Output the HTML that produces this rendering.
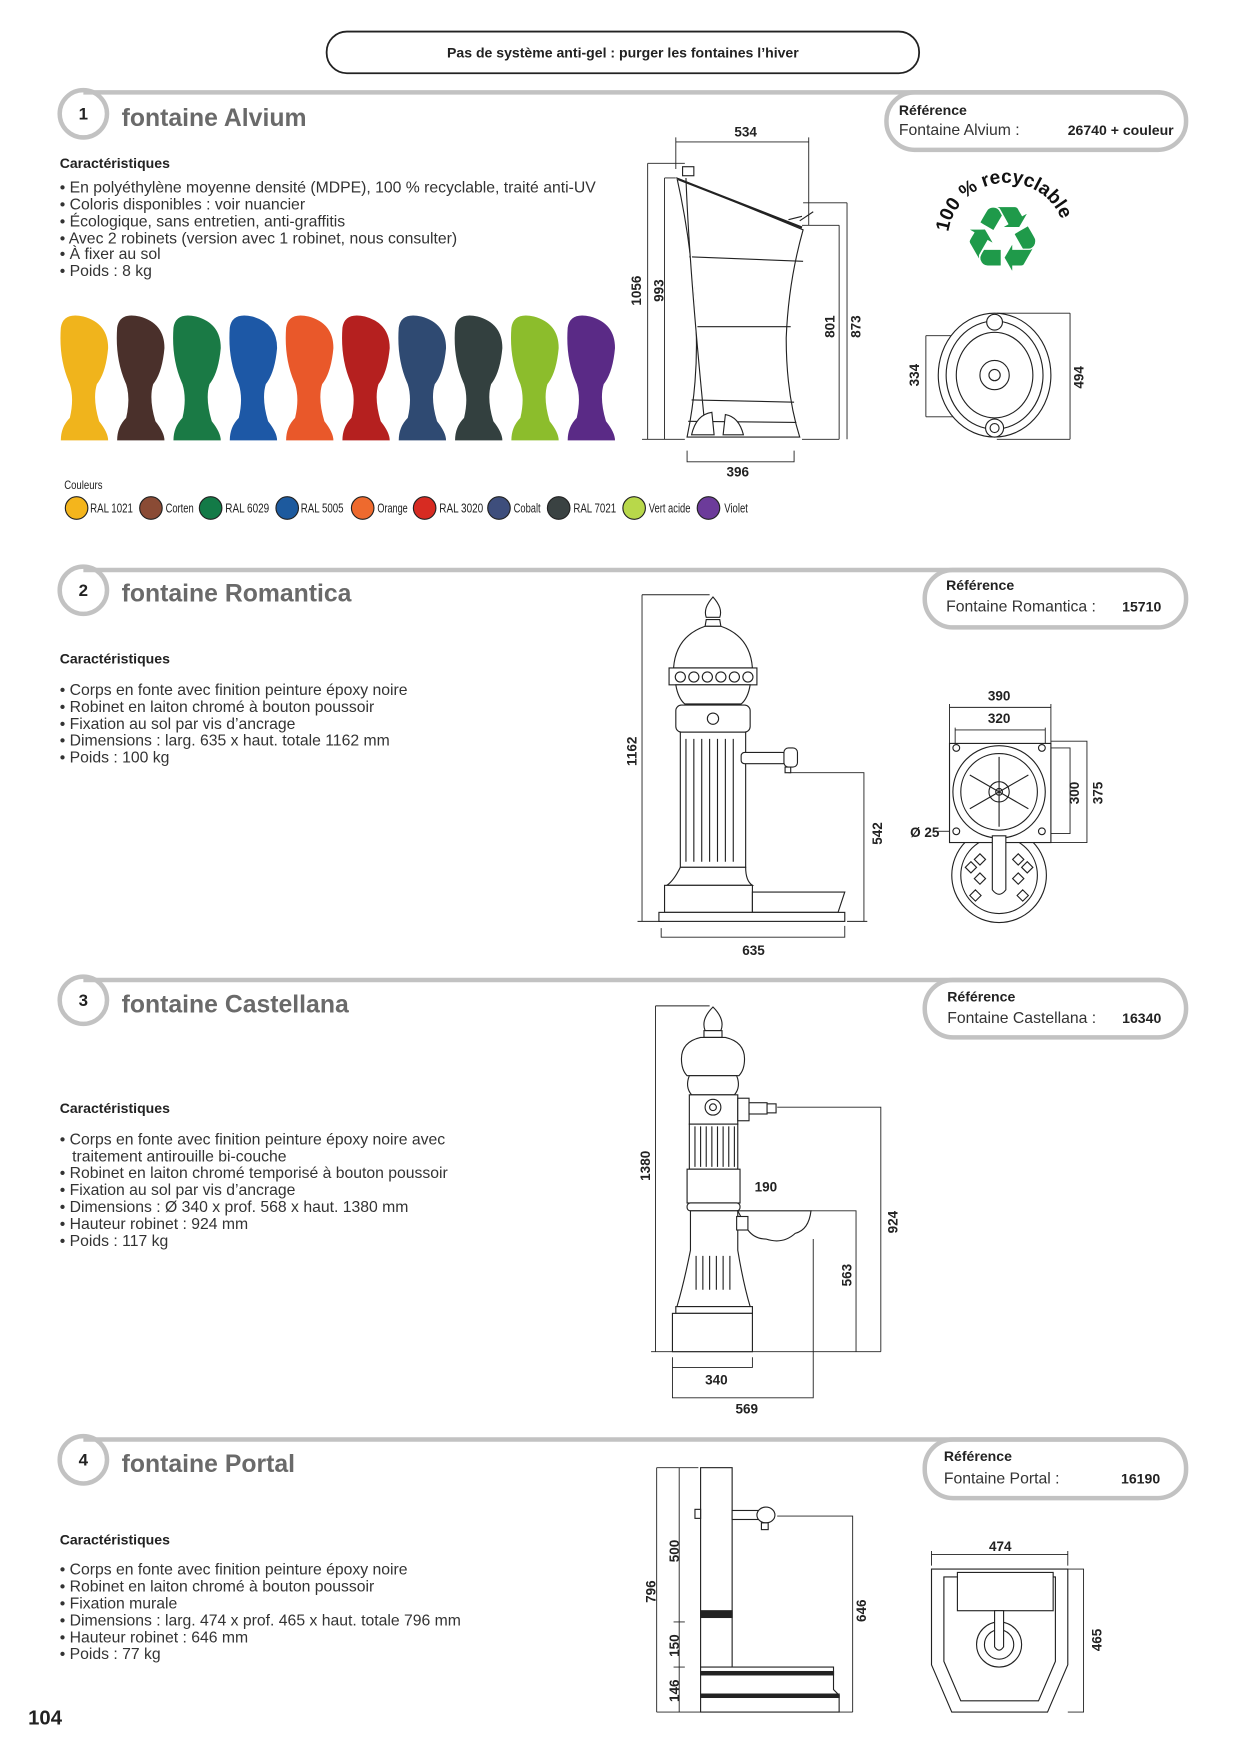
<!DOCTYPE html>
<html><head><meta charset="utf-8"><style>
html,body{margin:0;padding:0;background:#fff}
svg{display:block}
text{font-family:"Liberation Sans",sans-serif}
.n{font-weight:bold;font-size:12px;fill:#222}
.b{font-size:14px;fill:#333}
.t{font-size:22px;fill:#6a6a6a;font-weight:bold}
.c{font-size:12.5px;font-weight:bold;fill:#222}
.d{stroke:#222;stroke-width:0.8;fill:none}
.g{stroke:#c2c2c2;stroke-width:4;fill:none}
</style></head><body>
<svg width="1239" height="1753" viewBox="0 0 1100 1556.3" xmlns="http://www.w3.org/2000/svg">
<rect x="290" y="28" width="526" height="37" rx="18" fill="#fff" stroke="#222" stroke-width="1.6"/>
<text x="553" y="51" text-anchor="middle" font-size="12.5" font-weight="bold" fill="#222">Pas de système anti-gel : purger les fontaines l’hiver</text>

<g>
<path class="g" d="M74 82 H1030"/><circle class="g" cx="74" cy="101" r="21" fill="#fff"/>
<text x="74" y="106" text-anchor="middle" font-size="15" font-weight="bold" fill="#222">1</text>
<text x="108" y="112" class="t">fontaine Alvium</text>
<rect class="g" x="787" y="82" width="266" height="51" rx="25" fill="#fff"/>
<text x="798" y="102" class="c">Référence</text>
<text x="798" y="120" class="b" font-size="13">Fontaine Alvium :</text>
<text x="1042" y="120" class="c" text-anchor="end">26740 + couleur</text>
</g>
<g>
<path class="g" d="M74 506 H1030"/><circle class="g" cx="74" cy="524" r="21" fill="#fff"/>
<text x="74" y="529" text-anchor="middle" font-size="15" font-weight="bold" fill="#222">2</text>
<text x="108" y="534" class="t">fontaine Romantica</text>
<rect class="g" x="821" y="506" width="232" height="51" rx="25" fill="#fff"/>
<text x="840" y="524" class="c">Référence</text>
<text x="840" y="543" class="b" font-size="13">Fontaine Romantica :</text>
<text x="1031" y="543" class="c" text-anchor="end">15710</text>
</g>
<g>
<path class="g" d="M74 870 H1030"/><circle class="g" cx="74" cy="888" r="21" fill="#fff"/>
<text x="74" y="893" text-anchor="middle" font-size="15" font-weight="bold" fill="#222">3</text>
<text x="108" y="899" class="t">fontaine Castellana</text>
<rect class="g" x="821" y="870" width="232" height="51" rx="25" fill="#fff"/>
<text x="841" y="889" class="c">Référence</text>
<text x="841" y="908" class="b" font-size="13">Fontaine Castellana :</text>
<text x="1031" y="908" class="c" text-anchor="end">16340</text>
</g>
<g>
<path class="g" d="M74 1278 H1030"/><circle class="g" cx="74" cy="1296" r="21" fill="#fff"/>
<text x="74" y="1301" text-anchor="middle" font-size="15" font-weight="bold" fill="#222">4</text>
<text x="108" y="1307" class="t">fontaine Portal</text>
<rect class="g" x="821" y="1278" width="232" height="52" rx="25" fill="#fff"/>
<text x="838" y="1297" class="c">Référence</text>
<text x="838" y="1317" class="b" font-size="13">Fontaine Portal :</text>
<text x="1030" y="1317" class="c" text-anchor="end">16190</text>
</g>

<text x="53" y="149" class="c">Caractéristiques</text>
<g class="b">
<text x="53" y="171">• En polyéthylène moyenne densité (MDPE), 100 % recyclable, traité anti-UV</text>
<text x="53" y="186">• Coloris disponibles : voir nuancier</text>
<text x="53" y="201">• Écologique, sans entretien, anti-graffitis</text>
<text x="53" y="216">• Avec 2 robinets (version avec 1 robinet, nous consulter)</text>
<text x="53" y="230">• À fixer au sol</text>
<text x="53" y="245">• Poids : 8 kg</text>
</g>
<defs>
<path id="f" d="M2 12 Q4 -2 22 2 Q44 8 44 30 Q42 52 34 62 Q30 75 36 95 Q44 105 44 112 L2 112 Q2 100 10 92 Q14 75 10 62 Q0 40 2 12 Z"/>
</defs>
<g>
<use href="#f" x="52" y="279" fill="#f0b41c"/>
<use href="#f" x="102" y="279" fill="#4a302b"/>
<use href="#f" x="152" y="279" fill="#1a7a45"/>
<use href="#f" x="202" y="279" fill="#1d58a6"/>
<use href="#f" x="252" y="279" fill="#e9582a"/>
<use href="#f" x="302" y="279" fill="#b5201f"/>
<use href="#f" x="352" y="279" fill="#2f4a72"/>
<use href="#f" x="402" y="279" fill="#33403f"/>
<use href="#f" x="452" y="279" fill="#8cbd2c"/>
<use href="#f" x="502" y="279" fill="#5a2a86"/>
</g>
<text x="57" y="434" font-size="11" fill="#222" textLength="34" lengthAdjust="spacingAndGlyphs">Couleurs</text>
<g stroke="#222" stroke-width="1">
<circle cx="68" cy="451" r="10" fill="#f4b51c"/>
<circle cx="134" cy="451" r="10" fill="#8a4b35"/>
<circle cx="187" cy="451" r="10" fill="#137a47"/>
<circle cx="255" cy="451" r="10" fill="#1d5a9e"/>
<circle cx="322" cy="451" r="10" fill="#ee6a2e"/>
<circle cx="377" cy="451" r="10" fill="#d72b22"/>
<circle cx="443" cy="451" r="10" fill="#3e4e7c"/>
<circle cx="496" cy="451" r="10" fill="#3a4242"/>
<circle cx="563" cy="451" r="10" fill="#b8d84a"/>
<circle cx="629" cy="451" r="10" fill="#6c3b9a"/>
</g>
<g font-size="11.5" fill="#222" lengthAdjust="spacingAndGlyphs">
<text x="80" y="455" textLength="38" lengthAdjust="spacingAndGlyphs">RAL 1021</text>
<text x="147" y="455" textLength="25" lengthAdjust="spacingAndGlyphs">Corten</text>
<text x="200" y="455" textLength="39" lengthAdjust="spacingAndGlyphs">RAL 6029</text>
<text x="267" y="455" textLength="38" lengthAdjust="spacingAndGlyphs">RAL 5005</text>
<text x="335" y="455" textLength="27" lengthAdjust="spacingAndGlyphs">Orange</text>
<text x="390" y="455" textLength="39" lengthAdjust="spacingAndGlyphs">RAL 3020</text>
<text x="456" y="455" textLength="24" lengthAdjust="spacingAndGlyphs">Cobalt</text>
<text x="509" y="455" textLength="38" lengthAdjust="spacingAndGlyphs">RAL 7021</text>
<text x="576" y="455" textLength="37" lengthAdjust="spacingAndGlyphs">Vert acide</text>
<text x="643" y="455" textLength="21" lengthAdjust="spacingAndGlyphs">Violet</text>
</g>

<g class="d">
<path d="M600 126 H718 M600 122 V150 M718 122 V200"/>
<path d="M575 145 H608 M575 145 V390 M570 390 H608"/>
<path d="M590 158 H600 M590 158 V390"/>
<path d="M745 200 H712 M745 200 V390 M712 390 H745"/>
<path d="M752 180 H713 M752 180 V390"/>
<path d="M610 400 V410 H705 V400"/>
</g>
<g fill="#fff" stroke="#222" stroke-width="1">
<path d="M601 158 L713 204 Q700 250 698 300 Q698 350 710 388 L610 388 Q620 340 618 290 Q615 220 601 158 Z"/>
<path d="M602 159 L712 202" stroke-width="2"/>
<path d="M612 228 L713 232 M619 290 L702 290 M614 355 L705 357 M611 374 L707 375"/>
<path d="M609 158 Q612 240 626 380" />
<path d="M614 386 Q618 368 632 366 L634 386 Z M642 386 L644 368 Q656 370 660 386 Z"/>
<rect x="606" y="148" width="10" height="8"/>
<path d="M710 196 L722 188 M700 195 L712 192"/>
</g>
<g class="n">
<text x="662" y="121" text-anchor="middle">534</text>
<text x="655" y="423" text-anchor="middle">396</text>
<text transform="translate(569,258) rotate(-90)" text-anchor="middle">1056</text>
<text transform="translate(589,258) rotate(-90)" text-anchor="middle">993</text>
<text transform="translate(741,290) rotate(-90)" text-anchor="middle">801</text>
<text transform="translate(764,290) rotate(-90)" text-anchor="middle">873</text>
<text transform="translate(816,333) rotate(-90)" text-anchor="middle">334</text>
<text transform="translate(962,335) rotate(-90)" text-anchor="middle">494</text>
</g>
<defs><path id="arc" d="M842 206 A52 50 0 0 1 944 200"/></defs>
<text font-weight="bold" font-size="17" fill="#111"><textPath href="#arc">100 % recyclable</textPath></text>
<text x="890" y="240" text-anchor="middle" font-family="DejaVu Sans" font-size="80" fill="#1f9a4a">♻</text>
<g class="d">
<path d="M822 298 H850 M822 298 V370 M822 370 H850"/>
<path d="M950 278 H885 M950 278 V390 M950 390 H885"/>
</g>
<g fill="#fff" stroke="#222" stroke-width="1">
<ellipse cx="883" cy="333" rx="50" ry="55"/>
<ellipse cx="883" cy="333" rx="43" ry="48"/>
<ellipse cx="883" cy="333" rx="34" ry="38"/>
<circle cx="883" cy="333" r="13"/><circle cx="883" cy="333" r="5"/>
<circle cx="883" cy="286" r="7"/><circle cx="883" cy="380" r="8"/><circle cx="883" cy="380" r="4"/>
</g>

<text x="53" y="589" class="c">Caractéristiques</text>
<g class="b">
<text x="53" y="617">• Corps en fonte avec finition peinture époxy noire</text>
<text x="53" y="632">• Robinet en laiton chromé à bouton poussoir</text>
<text x="53" y="647">• Fixation au sol par vis d’ancrage</text>
<text x="53" y="662">• Dimensions : larg. 635 x haut. totale 1162 mm</text>
<text x="53" y="677">• Poids : 100 kg</text>
</g>
<g class="d">
<path d="M570 528 H630 M570 528 V818 M566 818 H590"/>
<path d="M700 686 H767 V818 M752 818 H770"/>
<path d="M587 824 V832 H750 V822"/>
</g>
<g fill="#fff" stroke="#222" stroke-width="1">
<path d="M633 530 Q624 540 627 548 L639 548 Q642 540 633 530 Z"/>
<path d="M627 550 H639 L640 556 H626 Z"/>
<path d="M626 556 Q600 565 598 593 H668 Q666 565 640 556 Z"/>
<rect x="594" y="593" width="78" height="15"/>
<circle cx="604" cy="601" r="4.5"/><circle cx="616" cy="601" r="4.5"/><circle cx="628" cy="601" r="4.5"/><circle cx="640" cy="601" r="4.5"/><circle cx="652" cy="601" r="4.5"/><circle cx="664" cy="601" r="4.5"/>
<path d="M600 608 Q602 620 608 625 H658 Q664 620 666 608 Z"/>
<rect x="600" y="626" width="66" height="24" rx="5"/>
<circle cx="633" cy="638" r="5"/>
<rect x="604" y="650" width="58" height="120"/>
<path d="M609 656 V765 M616 656 V765 M623 656 V765 M630 656 V765 M637 656 V765 M644 656 V765 M651 656 V765"/>
<path d="M604 770 Q598 782 592 786 H668 Q662 782 662 770 Z"/>
<rect x="590" y="786" width="78" height="24"/>
<path d="M668 792 H750 L744 810 H668 Z"/>
<rect x="585" y="810" width="165" height="8"/>
<rect x="658" y="668" width="40" height="10" rx="3"/>
<rect x="696" y="664" width="12" height="17" rx="4"/>
<rect x="697" y="681" width="5" height="5"/>
</g>
<g class="n">
<text transform="translate(565,667) rotate(-90)" text-anchor="middle">1162</text>
<text transform="translate(783,740) rotate(-90)" text-anchor="middle">542</text>
<text x="669" y="848" text-anchor="middle">635</text>
<text x="887" y="622" text-anchor="middle">390</text>
<text x="887" y="642" text-anchor="middle">320</text>
<text transform="translate(958,704) rotate(-90)" text-anchor="middle">300</text>
<text transform="translate(979,704) rotate(-90)" text-anchor="middle">375</text>
<text x="808" y="743">Ø 25</text>
</g>
<g class="d">
<path d="M843 628 H933 M843 625 V660 M933 625 V660 M848 648 H928 M848 646 V664 M928 646 V664"/>
<path d="M933 658 H965 V748 H933 M928 664 H950 V740 H928"/>
<path d="M833 738 H843"/>
</g>
<g fill="#fff" stroke="#222" stroke-width="1">
<circle cx="887" cy="777" r="42"/><circle cx="887" cy="777" r="34"/>
<rect x="843" y="660" width="90" height="88"/>
<circle cx="887" cy="703" r="41"/><circle cx="887" cy="703" r="34"/>
<circle cx="887" cy="703" r="9"/><circle cx="887" cy="703" r="3"/>
<circle cx="849" cy="664" r="3"/><circle cx="925" cy="664" r="3"/><circle cx="849" cy="738" r="3"/><circle cx="925" cy="738" r="3"/>
<path d="M887 703 L887 672 M887 703 L913 688 M887 703 L913 718 M887 703 L887 734 M887 703 L861 718 M887 703 L861 688"/>
<path d="M881 742 V790 Q887 798 893 790 V742 Z"/>
<path d="M862 765 l5 5 -5 5 -5 -5 z M870 758 l5 5 -5 5 -5 -5 z M870 775 l5 5 -5 5 -5 -5 z M904 758 l5 5 -5 5 -5 -5 z M912 765 l5 5 -5 5 -5 -5 z M904 775 l5 5 -5 5 -5 -5 z M866 790 l5 5 -5 5 -5 -5 z M908 790 l5 5 -5 5 -5 -5 z"/>
</g>

<text x="53" y="988" class="c">Caractéristiques</text>
<g class="b">
<text x="53" y="1016">• Corps en fonte avec finition peinture époxy noire avec</text>
<text x="64" y="1031">traitement antirouille bi-couche</text>
<text x="53" y="1046">• Robinet en laiton chromé temporisé à bouton poussoir</text>
<text x="53" y="1061">• Fixation au sol par vis d’ancrage</text>
<text x="53" y="1076">• Dimensions : Ø 340 x prof. 568 x haut. 1380 mm</text>
<text x="53" y="1091">• Hauteur robinet : 924 mm</text>
<text x="53" y="1106">• Poids : 117 kg</text>
</g>
<g class="d">
<path d="M582 893 H630 M582 893 V1200 M578 1200 H782"/>
<path d="M690 983 H782 V1200"/>
<path d="M720 1075 H760 V1200"/>
<path d="M597 1205 V1214 H668 V1205 M597 1214 V1241 H722 V1100"/>
</g>
<g fill="#fff" stroke="#222" stroke-width="1">
<path d="M633 894 Q622 905 626 915 L640 915 Q644 905 633 894 Z"/>
<rect x="625" y="915" width="16" height="6"/>
<path d="M622 921 Q605 925 605 940 Q605 950 610 955 H656 Q661 950 661 940 Q661 925 644 921 Z"/>
<path d="M612 955 Q608 965 614 972 H652 Q658 965 654 955 Z"/>
<rect x="612" y="972" width="43" height="26"/>
<circle cx="633" cy="983" r="7"/><circle cx="633" cy="983" r="3"/>
<rect x="655" y="975" width="10" height="20"/>
<rect x="665" y="979" width="16" height="10"/><rect x="681" y="980" width="8" height="8"/>
<rect x="612" y="998" width="43" height="40"/>
<path d="M617 1000 V1036 M622 1000 V1036 M627 1000 V1036 M632 1000 V1036 M637 1000 V1036 M642 1000 V1036 M647 1000 V1036 M652 1000 V1036"/>
<rect x="610" y="1038" width="47" height="30"/>
<rect x="610" y="1068" width="47" height="7" rx="3"/>
<path d="M613 1075 V1110 Q607 1140 601 1160 H666 Q660 1140 655 1110 V1075 Z"/>
<path d="M618 1115 V1145 M624 1115 V1145 M630 1115 V1145 M636 1115 V1145 M642 1115 V1145 M648 1115 V1145"/>
<path d="M655 1075 H720 Q718 1092 706 1095 Q695 1105 680 1100 Q670 1100 664 1092 Z"/>
<rect x="654" y="1080" width="10" height="12"/>
<rect x="600" y="1160" width="68" height="6"/>
<rect x="597" y="1166" width="71" height="34"/>
</g>
<g class="n">
<text transform="translate(577,1035) rotate(-90)" text-anchor="middle">1380</text>
<text x="670" y="1058">190</text>
<text transform="translate(797,1085) rotate(-90)" text-anchor="middle">924</text>
<text transform="translate(756,1132) rotate(-90)" text-anchor="middle">563</text>
<text x="636" y="1229" text-anchor="middle">340</text>
<text x="663" y="1255" text-anchor="middle">569</text>
</g>

<text x="53" y="1371" class="c">Caractéristiques</text>
<g class="b">
<text x="53" y="1398">• Corps en fonte avec finition peinture époxy noire</text>
<text x="53" y="1413">• Robinet en laiton chromé à bouton poussoir</text>
<text x="53" y="1428">• Fixation murale</text>
<text x="53" y="1443">• Dimensions : larg. 474 x  prof. 465 x haut. totale 796 mm</text>
<text x="53" y="1458">• Hauteur robinet : 646 mm</text>
<text x="53" y="1473">• Poids : 77 kg</text>
</g>
<g class="d">
<path d="M583 1303 H620 M583 1303 V1520 M583 1520 H757"/>
<path d="M603 1303 V1520 M598 1440 H608 M598 1480 H608"/>
<path d="M690 1346 H757 V1520"/>
<path d="M827 1380 H948 M827 1377 V1390 M948 1377 V1390"/>
<path d="M948 1393 H962 V1520 H948"/>
</g>
<g fill="#fff" stroke="#222" stroke-width="1">
<rect x="622" y="1303" width="28" height="177"/>
<rect x="622" y="1430" width="28" height="6" fill="#222"/>
<rect x="617" y="1340" width="5" height="8"/>
<rect x="650" y="1341" width="28" height="8"/>
<ellipse cx="680" cy="1345" rx="8" ry="7"/>
<rect x="676" y="1352" width="6" height="6"/>
<path d="M622 1480 H740 V1500 L745 1505 V1520 H622 Z"/>
<rect x="622" y="1484" width="118" height="3" fill="#222"/>
<rect x="622" y="1504" width="123" height="3" fill="#222"/>
<path d="M827 1393 H948 V1478 L930 1520 H845 L827 1478 Z"/>
<path d="M838 1400 H937 V1475 L922 1510 H853 L838 1475 Z"/>
<rect x="850" y="1396" width="85" height="34"/>
<circle cx="887" cy="1460" r="20"/><circle cx="887" cy="1460" r="13"/>
<path d="M883 1430 V1462 Q887 1468 891 1462 V1430 Z"/>
</g>
<g class="n">
<text transform="translate(582,1413) rotate(-90)" text-anchor="middle">796</text>
<text transform="translate(603,1377) rotate(-90)" text-anchor="middle">500</text>
<text transform="translate(603,1461) rotate(-90)" text-anchor="middle">150</text>
<text transform="translate(603,1501) rotate(-90)" text-anchor="middle">146</text>
<text transform="translate(769,1430) rotate(-90)" text-anchor="middle">646</text>
<text x="888" y="1377" text-anchor="middle">474</text>
<text transform="translate(978,1456) rotate(-90)" text-anchor="middle">465</text>
</g>

<text x="25" y="1531" font-weight="bold" font-size="18" fill="#222">104</text>
</svg>
</body></html>
